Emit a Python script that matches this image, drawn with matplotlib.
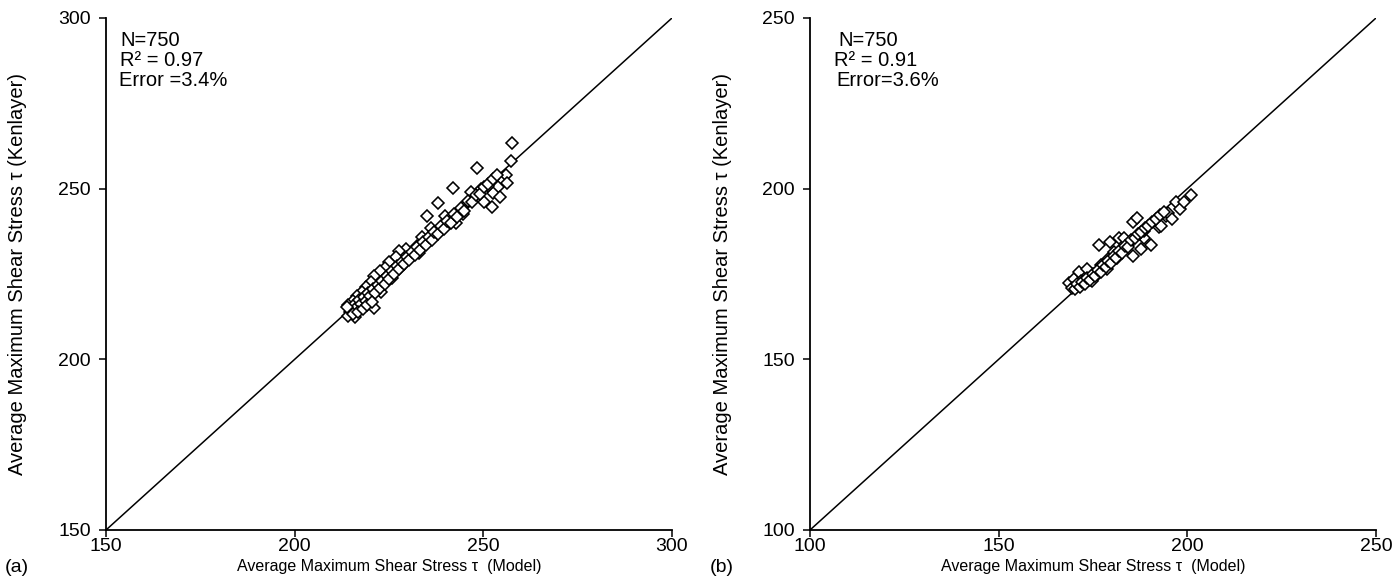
import matplotlib
matplotlib.use("Agg")
import matplotlib.pyplot as plt

plt.rcParams['font.family'] = ['Liberation Sans', 'DejaVu Sans']

# Panel (a): Kenlayer vs. model average maximum shear stress
a_model = [257.5, 257.3, 248.4, 242.0, 238.1, 235.0, 246.8, 255.9, 256.4, 254.0,
           252.6, 254.5, 250.3, 252.2, 249.3, 251.2, 239.9, 242.8, 244.6, 245.6,
           236.2, 233.8, 232.4, 229.6, 227.7, 226.8, 224.9, 224.0, 222.5, 221.1,
           220.2, 218.8, 217.9, 216.4, 215.5, 214.1, 214.6, 216.0, 221.1, 223.0,
           225.8, 228.2, 230.5, 232.9,
           215.0, 215.8, 216.5, 217.0, 217.6, 218.3, 218.9, 219.5, 220.0, 220.8,
           221.3, 222.0, 222.6, 223.2, 223.9, 224.5, 225.1, 225.8, 226.4, 227.0,
           227.7, 228.4, 229.0, 229.7, 230.3, 231.0, 231.8, 232.5, 233.2, 234.0,
           234.8, 235.5, 236.3, 237.0, 237.9, 238.7, 239.5, 240.4, 241.3, 242.2,
           243.1, 244.0, 245.0, 246.0, 247.0, 248.0, 249.0, 250.2, 251.3, 252.5,
           253.7, 214.2, 215.4, 216.8, 218.0, 219.2, 220.5, 213.8]
a_kenlayer = [263.5, 258.1, 256.0, 250.3, 245.7, 242.0, 249.0, 254.0, 251.7, 250.6,
              248.8, 247.7, 246.2, 244.6, 249.8, 250.9, 242.0, 239.9, 242.5, 245.7,
              238.4, 235.8, 233.2, 232.2, 231.6, 230.1, 228.5, 226.9, 225.9, 224.4,
              222.8, 221.2, 219.7, 218.6, 217.1, 216.0, 214.0, 212.4, 215.0, 219.7,
              223.8, 227.0, 230.1, 231.1,
              214.5, 216.0, 215.2, 217.5, 216.3, 218.2, 217.0, 219.4, 218.5, 220.6,
              219.5, 221.8, 220.9, 223.0, 222.1, 224.3, 223.5, 226.0, 225.1, 227.2,
              226.4, 228.6, 227.8, 230.0, 229.2, 231.3, 230.6, 232.8, 232.0, 234.3,
              233.6, 235.8, 235.0, 237.4, 236.7, 239.0, 238.2, 240.6, 240.0, 242.5,
              241.8, 244.2, 243.6, 246.3, 246.0, 248.2, 248.5, 250.4, 251.5, 252.8,
              253.9, 212.8, 213.3, 213.8, 214.6, 215.8, 216.9, 215.2]

# Panel (b)
b_model = [168.6, 170.0, 171.4, 173.3, 170.5, 171.9, 174.8, 176.2, 178.6, 176.7,
           179.5, 181.9, 183.3, 185.7, 186.7, 184.3, 185.7, 187.6, 188.6, 190.5,
           192.4, 194.3, 188.6, 187.1, 181.4, 182.9, 179.1, 180.5, 177.1,
           195.0, 197.0, 198.0, 201.0, 193.0, 196.0, 199.0,
           169.5, 170.2, 170.8, 171.5, 172.1, 172.8, 173.5, 174.2, 174.9, 175.6,
           176.3, 177.0, 177.7, 178.4, 179.1, 179.8, 180.5, 181.2, 182.0, 182.8,
           183.6, 184.4, 185.2, 186.0, 186.9, 187.8, 188.7, 189.6, 190.6, 191.6,
           192.7, 193.8]
b_kenlayer = [172.4, 173.5, 175.6, 176.6, 171.4, 172.9, 172.9, 175.1, 176.6, 183.5,
              184.5, 185.6, 185.6, 190.3, 191.4, 183.5, 180.3, 182.4, 185.6, 183.5,
              188.7, 191.9, 187.7, 186.6, 179.8, 181.9, 179.3, 181.4, 177.7,
              193.0, 196.0, 194.0, 198.0, 189.0, 191.0, 196.0,
              171.0, 170.6, 172.0, 171.3, 172.8, 172.2, 173.9, 173.3, 175.0, 174.5,
              176.2, 175.7, 177.5, 177.0, 178.9, 178.3, 180.2, 179.6, 181.6, 181.2,
              183.3, 182.9, 185.0, 185.5, 186.6, 187.4, 188.5, 189.2, 190.3, 191.2,
              192.4, 193.3]

a_ticks = [150, 200, 250, 300]
b_ticks = [100, 150, 200, 250]
a_stats = ["N=750", "R² = 0.97", "Error =3.4%"]
b_stats = ["N=750", "R² = 0.91", "Error=3.6%"]

xlabel = "Average Maximum Shear Stress \u03c4  (Model)"
ylabel = "Average Maximum Shear Stress \u03c4 (Kenlayer)"

W, H = 1397, 584
fig = plt.figure(figsize=(W / 100, H / 100), dpi=100)

AX_W, AX_H, AX_TOP, AX_BOT = 566, 512, 18, 530


def panel(left_px, xs, ys, ticks, stats, stat_x, tag, tag_x):
    ax = fig.add_axes([left_px / W, (H - AX_BOT) / H, AX_W / W, AX_H / H])
    lo, hi = ticks[0], ticks[-1]
    ax.plot([lo, hi], [lo, hi], color='black', lw=1.1, zorder=2)
    ax.plot(xs, ys, linestyle='none', marker='D', ms=6.2, mfc='white',
            mec='black', mew=1.15, zorder=3)
    ax.set_xlim(lo, hi)
    ax.set_ylim(lo, hi)
    ax.set_xticks(ticks)
    ax.set_yticks(ticks)
    for s in ['top', 'right']:
        ax.spines[s].set_visible(False)
    for s in ['left', 'bottom']:
        ax.spines[s].set_linewidth(1.3)
    ax.tick_params(direction='out', length=5, width=1.1, labelsize=14)
    ax.tick_params(axis='x', pad=1)
    ax.tick_params(axis='y', pad=6)
    ax.set_xlabel(xlabel, fontsize=11.5, va='center')
    ax.xaxis.set_label_coords(0.5, (AX_BOT - 567) / AX_H)
    ax.set_ylabel(ylabel, fontsize=14.5, va='center')
    ax.yaxis.set_label_coords((18 - 106) / AX_W, 0.5)
    for i, (s, sx) in enumerate(zip(stats, stat_x)):
        ypx = 40 + 20 * i
        ax.text(sx, (AX_BOT - ypx) / AX_H, s, transform=ax.transAxes,
                fontsize=14.5, va='center', ha='left')
    fig.text(tag_x / W, 1 - 567 / H, tag, fontsize=14, va='center', ha='left')
    return ax


panel(106, a_model, a_kenlayer, a_ticks, a_stats, [0.025, 0.025, 0.023], "(a)", 5)
panel(810, b_model, b_kenlayer, b_ticks, b_stats, [0.05, 0.043, 0.046], "(b)", 710)

fig.savefig("out.png", dpi=100)
